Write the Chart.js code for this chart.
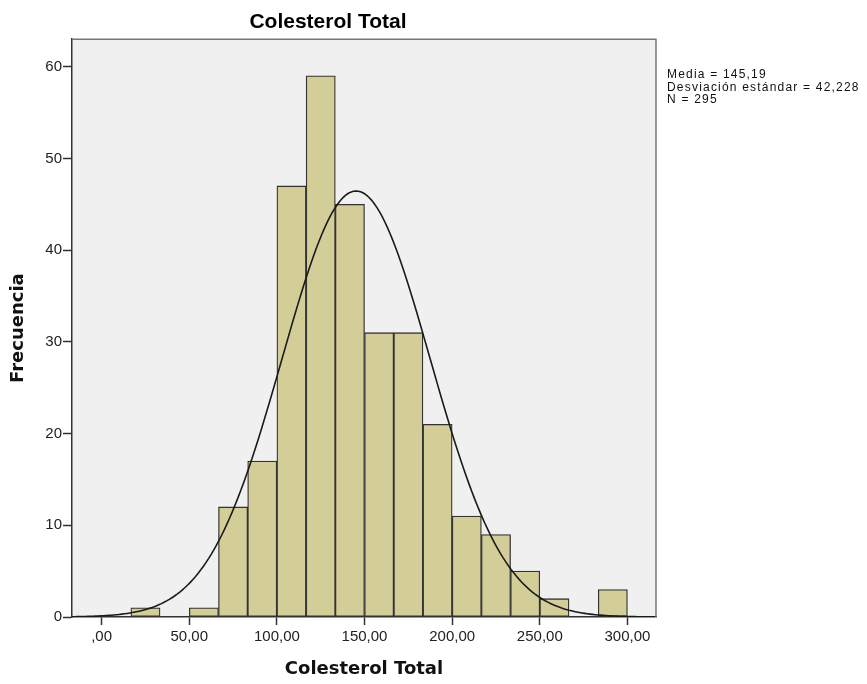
<!DOCTYPE html>
<html>
<head>
<meta charset="utf-8">
<title>Colesterol Total</title>
<script src="https://cdn.jsdelivr.net/npm/chart.js@4.4.1/dist/chart.umd.min.js"></script>
<style>
  body { margin: 0; background: #fff; }
  canvas { display: block; }
</style>
</head>
<body>
<canvas id="mycanvas" width="867" height="684"></canvas>
<script>
// histogram bins (lower edge of each bin) and their counts
var binWidth = 50 / 3;
var binStarts = [16.67, 33.33, 50.00, 66.67, 83.33, 100.00, 116.67, 133.33, 150.00,
                 166.67, 183.33, 200.00, 216.67, 233.33, 250.00, 266.67, 283.33];
var counts = [1, 0, 1, 12, 17, 47, 59, 45, 31, 31, 21, 11, 9, 5, 2, 0, 3];

// summary shown beside the plot
var media = 145.19;
var desviacion = 42.228;
var total = 295;

// axis ticks
var xTicks = [0, 50, 100, 150, 200, 250, 300];
var xTickLabels = [',00', '50,00', '100,00', '150,00', '200,00', '250,00', '300,00'];
var yTicks = [0, 10, 20, 30, 40, 50, 60];
var xMin = -16.9, xMax = 316.3;
var yMax = 63;

var barData = [];
for (var i in binStarts) {
	barData.push({ x: binStarts[i] + binWidth / 2, y: counts[i] > 0 ? counts[i] : null });
}

// normal curve scaled to the histogram, from the stated mean / std. dev. / N
var curveData = [];
for (var x = xMin; x <= xMax; x += 1.5) {
	var z = (x - media) / desviacion;
	var dens = Math.exp(-0.5 * z * z) / (desviacion * Math.sqrt(2 * Math.PI));
	curveData.push({ x: x, y: total * binWidth * dens });
}

function fmt(v, d) {
	return v.toFixed(d).replace('.', ',');
}
var statLines = [
	'Media = ' + fmt(media, 2),
	'Desviación estándar = ' + fmt(desviacion, 3),
	'N = ' + total
];

var plotFrame = {
	id: 'plotFrame',
	beforeDraw: function(chart) {
		var c = chart.ctx, a = chart.chartArea;
		c.save();
		c.fillStyle = '#fff';
		c.fillRect(0, 0, chart.width, chart.height);
		c.fillStyle = '#f0f0f0';
		c.fillRect(a.left, a.top, a.right - a.left, a.bottom - a.top);
		c.restore();
	},
	afterDraw: function(chart) {
		var c = chart.ctx, a = chart.chartArea;
		c.save();
		c.strokeStyle = '#777';
		c.lineWidth = 1.5;
		c.beginPath();
		c.moveTo(a.left, a.top);
		c.lineTo(a.right, a.top);
		c.lineTo(a.right, a.bottom);
		c.stroke();
		c.fillStyle = '#111';
		c.font = '12px "Liberation Sans", Arial, sans-serif';
		c.letterSpacing = '1.2px';
		c.textBaseline = 'middle';
		for (var k = 0; k < statLines.length; k++) {
			c.fillText(statLines[k], a.right + 11, 75 + k * 12.5);
		}
		c.restore();
	}
};

var ctx = document.getElementById('mycanvas');

var histogram = new Chart(ctx, {
	type: 'bar',
	data: {
		datasets: [
			{
				type: 'line',
				label: 'Normal',
				data: curveData,
				borderColor: '#1a1a1a',
				borderWidth: 1.6,
				pointRadius: 0,
				fill: false,
				tension: 0,
				order: 0
			},
			{
				label: 'Frecuencia',
				data: barData,
				backgroundColor: '#d3ce98',
				borderColor: '#333',
				borderWidth: 1.3,
				borderSkipped: false,
				categoryPercentage: 1,
				barPercentage: 1,
				order: 1
			}
		]
	},
	options: {
		responsive: false,
		animation: false,
		layout: { padding: { left: 0, right: 211, top: 0, bottom: 0 } },
		plugins: {
			legend: { display: false },
			tooltip: { enabled: false },
			title: {
				display: true,
				text: 'Colesterol Total',
				color: '#000',
				font: { family: '"Liberation Sans", Arial, sans-serif', size: 21, weight: 'bold' },
				padding: { top: 10, bottom: 4 }
			}
		},
		scales: {
			x: {
				type: 'linear',
				offset: false,
				min: xMin,
				max: xMax,
				afterBuildTicks: function(scale) {
					scale.ticks = xTicks.map(function(v) { return { value: v }; });
				},
				afterFit: function(scale) { scale.height = 67; },
				grid: { drawOnChartArea: false, offset: false, tickLength: 8, tickColor: '#333', tickWidth: 1.5 },
				border: { color: '#333', width: 1.5 },
				ticks: {
					color: '#222',
					padding: 3,
					maxRotation: 0,
					autoSkip: false,
					font: { family: '"Liberation Sans", Arial, sans-serif', size: 15 },
					callback: function(v, i) { return xTickLabels[i]; }
				},
				title: {
					display: true,
					text: 'Colesterol Total',
					color: '#111',
					font: { family: '"DejaVu Sans", sans-serif', size: 18, weight: 'bold' },
					padding: { top: 0, bottom: 4 }
				}
			},
			y: {
				min: 0,
				max: yMax,
				afterBuildTicks: function(scale) {
					scale.ticks = yTicks.map(function(v) { return { value: v }; });
				},
				afterFit: function(scale) { scale.width = 72; },
				grid: { drawOnChartArea: false, tickLength: 9, tickColor: '#333', tickWidth: 1.5 },
				border: { color: '#333', width: 1.5 },
				ticks: {
					color: '#222',
					padding: 1,
					font: { family: '"Liberation Sans", Arial, sans-serif', size: 15 }
				},
				title: {
					display: true,
					text: 'Frecuencia',
					color: '#111',
					font: { family: '"DejaVu Sans", sans-serif', size: 18, weight: 'bold' },
					padding: { top: 8, bottom: 0 }
				}
			}
		}
	},
	plugins: [plotFrame]
});
</script>
</body>
</html>
